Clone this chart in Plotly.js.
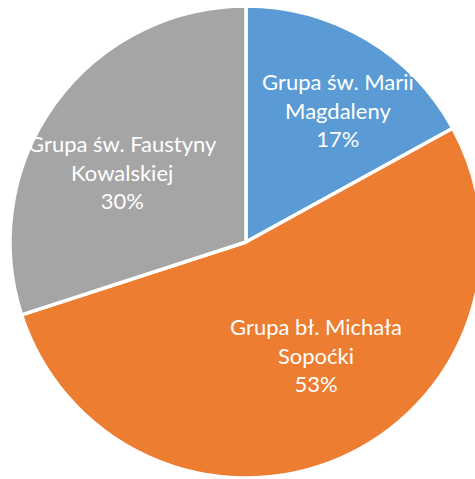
<!DOCTYPE html>
<html>
<head>
<meta charset="utf-8">
<script src="https://cdn.plot.ly/plotly-3.0.1.min.js"></script>
<style>
html,body{margin:0;padding:0;background:#fff;overflow:hidden;width:475px;height:479px;}
#chart{width:490px;height:478px;}
</style>
</head>
<body>
<div id="chart"></div>
<script>
const categories = ['Grupa św. Marii Magdaleny', 'Grupa bł. Michała Sopoćki', 'Grupa św. Faustyny Kowalskiej'];
const labelLines = [['Grupa św. Marii', 'Magdaleny'], ['Grupa bł. Michała', 'Sopoćki'], ['Grupa św. Faustyny', 'Kowalskiej']];
const values = [17, 53, 30];
const colors = ['#5B9BD5', '#ED7D31', '#A5A5A5'];

const total = values.reduce((a, b) => a + b, 0);
const pct = values.map(v => Math.round(v / total * 100) + '%');

// label anchor positions (paper coords of the plot area)
const labelPos = [[0.695, 0.780], [0.648, 0.261], [0.239, 0.648]];

const annotations = categories.map((c, i) => ({
  text: labelLines[i].join('<br>') + '<br>' + pct[i],
  x: labelPos[i][0], y: labelPos[i][1],
  xref: 'paper', yref: 'paper',
  xanchor: 'center', yanchor: 'middle',
  showarrow: false,
  font: {family: 'Lato, "DejaVu Sans", sans-serif', size: 22, color: '#ffffff'},
  align: 'center'
}));

const trace = {
  type: 'pie',
  labels: categories,
  values: values,
  sort: false,
  direction: 'clockwise',
  rotation: 0,
  marker: {colors: colors, line: {color: '#ffffff', width: 3.5}},
  textinfo: 'none',
  hoverinfo: 'label+percent',
  showlegend: false
};

const layout = {
  width: 490, height: 478,
  margin: {l: 10, r: 8, t: 6, b: 0},
  paper_bgcolor: '#ffffff',
  plot_bgcolor: '#ffffff',
  showlegend: false,
  annotations: annotations
};

Plotly.newPlot('chart', [trace], layout, {displayModeBar: false, staticPlot: true});
</script>
</body>
</html>
